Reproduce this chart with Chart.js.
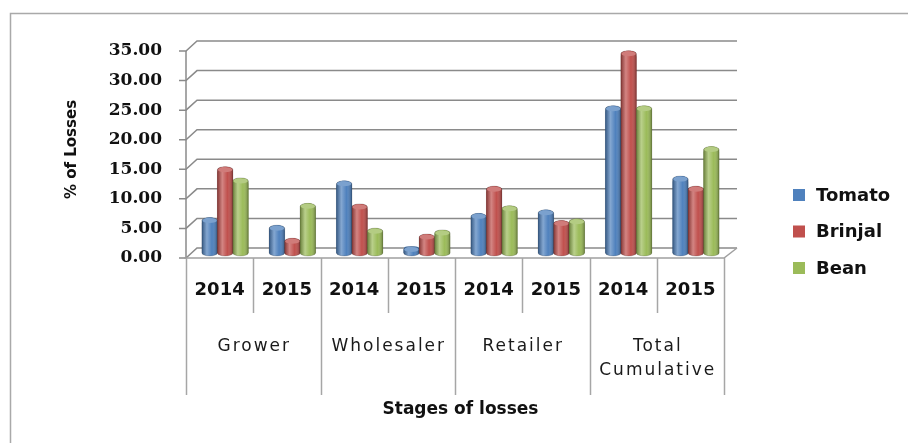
<!DOCTYPE html>
<html>
<head>
<meta charset="utf-8">
<title>Stages of losses</title>
<script src="https://cdn.jsdelivr.net/npm/chart.js@4.4.1/dist/chart.umd.min.js"></script>
<style>
  html, body { margin: 0; padding: 0; background: #fff; }
  #wrap { position: relative; width: 908px; height: 443px; }
</style>
</head>
<body>
<div id="wrap"><canvas id="losses"></canvas></div>
<script>
// % of losses per stage and year
const years = ['2014', '2015', '2014', '2015', '2014', '2015', '2014', '2015'];
const stages = [['Grower'], ['Wholesaler'], ['Retailer'], ['Total', 'Cumulative']];
const tomato = [6.0, 4.7, 12.2, 1.1, 6.7, 7.3, 24.9, 13.0];
const brinjal = [14.6, 2.5, 8.3, 3.2, 11.3, 5.5, 34.2, 11.3];
const bean = [12.7, 8.4, 4.2, 3.9, 8.0, 5.8, 24.9, 18.0];
const yTicks = [0, 5, 10, 15, 20, 25, 30, 35];

const FONT = '"DejaVu Sans", "Open Sans", sans-serif';

// fake depth: front edge sits lower-left, back wall upper-right of the bars
const FRONT = { dx: -5.5, dy: 5 };
const BACK = { dx: 5.5, dy: -5 };

function tint(hex, k) {
  const n = parseInt(hex.slice(1), 16);
  const c = [n >> 16, (n >> 8) & 255, n & 255].map(v => Math.round(v + (255 - v) * k));
  return 'rgb(' + c.join(',') + ')';
}

const frame3d = {
  id: 'frame3d',
  beforeDraw(chart) {
    const { ctx, width, height } = chart;
    ctx.save();
    ctx.fillStyle = '#fff';
    ctx.fillRect(0, 0, width, height);
    ctx.strokeStyle = '#a9a9a9';
    ctx.lineWidth = 1.5;
    ctx.beginPath();
    ctx.moveTo(10.5, height);
    ctx.lineTo(10.5, 13.5);
    ctx.lineTo(width, 13.5);
    ctx.stroke();
    ctx.restore();
  },
  beforeDatasetsDraw(chart) {
    const { ctx, chartArea: a, scales: { x, y } } = chart;
    const fl = a.left + FRONT.dx, fr = a.right + FRONT.dx;
    ctx.save();
    ctx.strokeStyle = '#8a8a8a';
    ctx.lineWidth = 1.5;
    // wall gridlines with their slanted links to the front axis
    yTicks.forEach(v => {
      const p = y.getPixelForValue(v);
      ctx.beginPath();
      ctx.moveTo(fl - 7, p + FRONT.dy);
      ctx.lineTo(fl, p + FRONT.dy);
      ctx.lineTo(a.left + BACK.dx, p + BACK.dy);
      ctx.lineTo(a.right + BACK.dx + 2, p + BACK.dy);
      ctx.stroke();
    });
    // front value axis
    ctx.beginPath();
    ctx.moveTo(fl, y.getPixelForValue(0) + FRONT.dy);
    ctx.lineTo(fl, y.getPixelForValue(35) + FRONT.dy);
    ctx.stroke();
    // floor front edge and right side
    const p0 = y.getPixelForValue(0);
    ctx.strokeStyle = '#a0a0a0';
    ctx.beginPath();
    ctx.moveTo(fl - 2, p0 + FRONT.dy);
    ctx.lineTo(fr, p0 + FRONT.dy);
    ctx.lineTo(a.right + BACK.dx + 2, p0 + BACK.dy);
    ctx.stroke();
    ctx.restore();
  },
  afterDraw(chart) {
    const { ctx, chartArea: a, scales: { x, y } } = chart;
    const base = y.getPixelForValue(0) + FRONT.dy;
    const step = x.getPixelForValue(1) - x.getPixelForValue(0);
    const edge = i => x.getPixelForValue(0) - step / 2 + i * step + FRONT.dx;
    ctx.save();
    ctx.strokeStyle = '#a6a6a6';
    ctx.lineWidth = 1.5;
    for (let i = 0; i <= years.length; i++) {
      const xb = Math.round(edge(i)) + 0.5;
      ctx.beginPath();
      ctx.moveTo(xb, base);
      ctx.lineTo(xb, i % 2 ? 313 : 395);
      ctx.stroke();
    }
    // stage names under each pair of years
    ctx.fillStyle = '#1a1a1a';
    ctx.font = '17px ' + FONT;
    ctx.letterSpacing = '2px';
    ctx.textAlign = 'center';
    ctx.textBaseline = 'middle';
    stages.forEach((lines, g) => {
      const cx = (edge(g * 2) + edge(g * 2 + 2)) / 2 + 1;
      lines.forEach((t, k) => ctx.fillText(t, cx, 347 + k * 24));
    });
    ctx.letterSpacing = '0px';
    // legend on the right
    ctx.font = 'bold 18px ' + FONT;
    ctx.textAlign = 'left';
    chart.data.datasets.forEach((ds, i) => {
      const cy = 195 + i * 36.5;
      ctx.fillStyle = ds.backgroundColor;
      ctx.fillRect(793, cy - 6, 12, 12);
      ctx.fillStyle = '#111';
      ctx.fillText(ds.label, 816, cy + 1);
    });
    ctx.restore();
  }
};

// cylinder look over each bar drawn by the bar controller
const cylinders = {
  id: 'cylinders',
  afterDatasetsDraw(chart) {
    const ctx = chart.ctx;
    chart.data.datasets.forEach((ds, di) => {
      chart.getDatasetMeta(di).data.forEach(bar => {
        const { x, y, base, width } = bar.getProps(['x', 'y', 'base', 'width'], true);
        const l = x - width / 2, r = x + width / 2, rx = width / 2, ry = 3;
        const shade = ctx.createLinearGradient(l, 0, r, 0);
        shade.addColorStop(0, 'rgba(0,0,0,0.30)');
        shade.addColorStop(0.32, 'rgba(255,255,255,0.30)');
        shade.addColorStop(0.65, 'rgba(255,255,255,0)');
        shade.addColorStop(1, 'rgba(0,0,0,0.32)');
        ctx.save();
        ctx.beginPath();
        ctx.moveTo(l, y + ry);
        ctx.lineTo(l, base);
        ctx.ellipse(x, base, rx, ry, 0, Math.PI, 0, true);
        ctx.lineTo(r, y + ry);
        ctx.ellipse(x, y + ry, rx, ry, 0, 0, Math.PI, true);
        ctx.closePath();
        ctx.fillStyle = ds.backgroundColor;
        ctx.fill();
        ctx.fillStyle = shade;
        ctx.fill();
        ctx.strokeStyle = 'rgba(0,0,0,0.22)';
        ctx.lineWidth = 0.8;
        ctx.stroke();
        ctx.beginPath();
        ctx.ellipse(x, y + ry, rx - 0.5, ry - 0.5, 0, 0, Math.PI * 2);
        ctx.fillStyle = tint(ds.backgroundColor, 0.25);
        ctx.fill();
        ctx.restore();
      });
    });
  }
};

new Chart(document.getElementById('losses'), {
  type: 'bar',
  data: {
    labels: years,
    datasets: [
      { label: 'Tomato', data: tomato, backgroundColor: '#4F81BD' },
      { label: 'Brinjal', data: brinjal, backgroundColor: '#C0504D' },
      { label: 'Bean', data: bean, backgroundColor: '#9BBB59' }
    ]
  },
  options: {
    responsive: true,
    maintainAspectRatio: false,
    animation: false,
    layout: { padding: { left: 12, right: 178.5, top: 46, bottom: 0 } },
    datasets: {
      bar: {
        categoryPercentage: 0.69,
        barPercentage: 1.0,
        borderRadius: { topLeft: 6, topRight: 6 },
        borderSkipped: 'bottom'
      }
    },
    scales: {
      x: {
        grid: { display: false, drawTicks: false },
        border: { display: false },
        ticks: {
          color: '#111',
          font: { family: FONT, size: 18, weight: 'bold' },
          padding: 27,
          labelOffset: FRONT.dx,
          maxRotation: 0
        },
        title: {
          display: true,
          text: 'Stages of losses',
          color: '#111',
          font: { family: FONT, size: 17, weight: 'bold' },
          padding: { top: 0, bottom: 23 }
        },
        afterFit(scale) { scale.height = 190; }
      },
      y: {
        min: 0,
        max: 35,
        grid: { display: false, drawTicks: false },
        border: { display: false },
        ticks: {
          stepSize: 5,
          color: '#111',
          font: { family: '"DejaVu Serif", serif', size: 17, weight: 'bold' },
          padding: 29.5,
          labelOffset: FRONT.dy,
          callback: v => v.toFixed(2)
        },
        title: {
          display: true,
          text: '% of Losses',
          color: '#111',
          font: { family: FONT, size: 15, weight: 'bold' },
          padding: { top: 51, bottom: 0 }
        },
        afterFit(scale) { scale.width = 179.5; }
      }
    },
    plugins: {
      legend: { display: false },
      tooltip: { enabled: false }
    }
  },
  plugins: [frame3d, cylinders]
});
</script>
</body>
</html>
